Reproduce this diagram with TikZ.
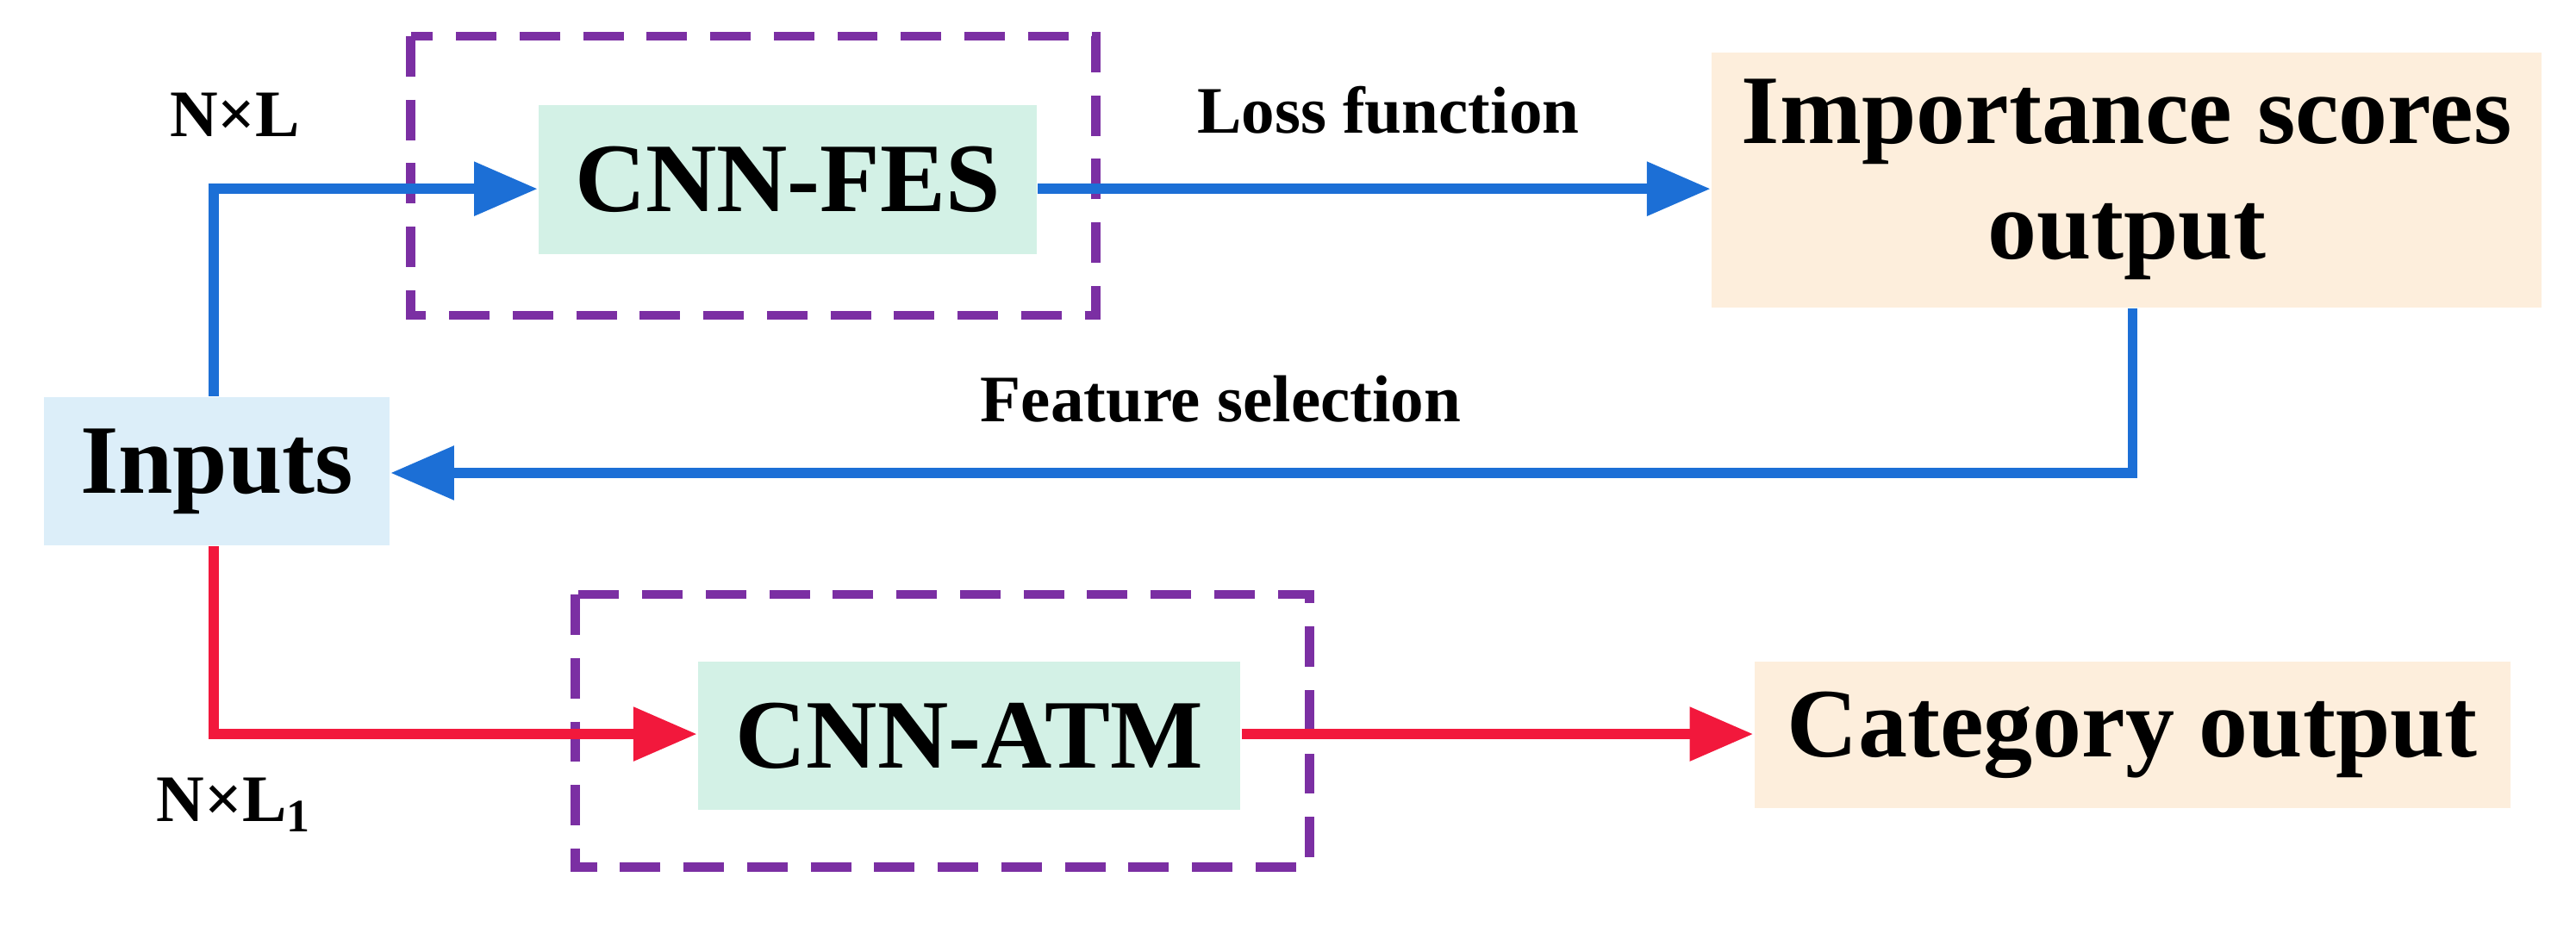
\documentclass[tikz,border=0pt]{standalone}
\usepackage{fontspec}
\setmainfont{Liberation Serif}
\usetikzlibrary{arrows.meta}
\definecolor{bl}{HTML}{1C6FD6}
\definecolor{rd}{HTML}{F2183C}
\definecolor{pu}{HTML}{7B2FA3}
\definecolor{inb}{HTML}{DCEEF9}
\definecolor{mint}{HTML}{D3F1E6}
\definecolor{peach}{HTML}{FDEEDC}
\begin{document}
\begin{tikzpicture}[x=0.01cm,y=-0.01cm,
  box/.style={draw=none,inner sep=0,font=\fontsize{17}{20}\selectfont\bfseries,align=center},
  pdash/.style={draw=pu,line width=1.6pt,dash pattern=on 7pt off 4pt},
  con/.style={line width=1.7pt,-{Triangle[length=11pt,width=9pt]}},
  lab/.style={font=\fontsize{11.5}{13}\selectfont\bfseries}]
\useasboundingbox (0,0) rectangle (1568,568);
\draw[pdash] (250,22) rectangle (667,192);
\draw[pdash] (350,362) rectangle (797,528);
\node[box,fill=inb,minimum width=2.10cm,minimum height=0.90cm] (in) at (132,287) {Inputs};
\node[box,fill=mint,minimum width=3.03cm,minimum height=0.91cm] (fes) at (479.5,109.5) {CNN-FES};
\node[box,fill=peach,minimum width=5.05cm,minimum height=1.55cm] (imp) at (1294.5,109.5) {Importance scores\\output};
\node[box,fill=mint,minimum width=3.30cm,minimum height=0.90cm] (atm) at (590,448) {CNN-ATM};
\node[box,fill=peach,minimum width=4.60cm,minimum height=0.89cm] (cat) at (1298,447.5) {Category output};
\coordinate (c1) at (130,115);
\coordinate (c2) at (130,447);
\draw[con,bl] (in.north -| c1) -- (c1) -- (fes.west |- c1);
\draw[con,bl] (fes.east |- c1) -- (imp.west |- c1);
\coordinate (c3) at (1298,288);
\draw[con,bl] (imp.south -| c3) -- (c3) -- (in.east |- c3);
\draw[con,rd] (in.south -| c2) -- (c2) -- (atm.west |- c2);
\draw[con,rd] (atm.east |- c2) -- (cat.west |- c2);
\node[lab] (t1) at (143,70) {N×L};
\node[lab] (t2) at (845,67) {Loss function};
\node[lab] (t3) at (743,243) {Feature selection};
\node[lab] (t4) at (143,490) {N×L\textsubscript{1}};
\end{tikzpicture}
\end{document}
